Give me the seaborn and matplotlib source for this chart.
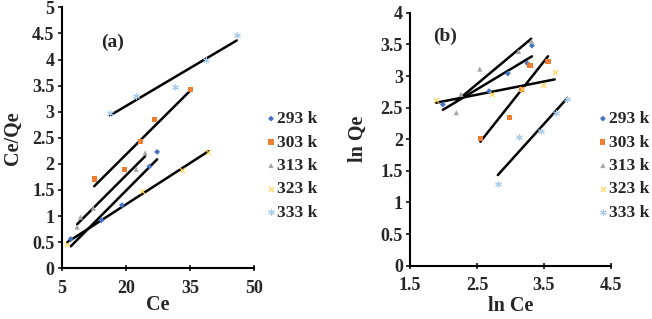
import numpy as np
import pandas as pd
import matplotlib
matplotlib.use("Agg")
import matplotlib.pyplot as plt
import seaborn as sns

# series labels and look
temps = ["293 k", "303 k", "313 k", "323 k", "333 k"]
colors = ["#4472C4", "#ED7D31", "#A5A5A5", "#FFD24D", "#A9CCEA"]
markers = ["D", "s", "^", "x", (6, 2, 0)]
sizes = [9, 14, 14, 14, 18]

# (a) Ce vs Ce/Qe
ce_a = [
    [7.1, 14.3, 19.1, 25.5, 27.3],
    [12.6, 19.7, 23.5, 26.6, 35.1],
    [8.6, 9.4, 12.4, 22.4, 24.5],
    [6.3, 23.7, 33.0, 39.3],
    [16.3, 22.4, 31.5, 38.7, 45.9],
]
ceqe_a = [
    [0.56, 0.92, 1.21, 1.95, 2.23],
    [1.71, 1.90, 2.43, 2.85, 3.42],
    [0.79, 0.98, 1.15, 1.90, 2.21],
    [0.47, 1.49, 1.88, 2.23],
    [2.97, 3.30, 3.47, 3.99, 4.47],
]
xticks_a = [5, 20, 35, 50]
yticks_a = [0, 0.5, 1, 1.5, 2, 2.5, 3, 3.5, 4, 4.5, 5]

# (b) ln Ce vs ln Qe
lnce_b = [
    [1.99, 2.68, 2.96, 3.25, 3.32],
    [2.55, 2.99, 3.16, 3.29, 3.56],
    [2.19, 2.26, 2.54, 3.12, 3.31],
    [1.89, 2.72, 3.17, 3.49, 3.66],
    [2.81, 3.12, 3.46, 3.68, 3.84],
]
lnqe_b = [
    [2.55, 2.76, 3.04, 3.20, 3.48],
    [2.01, 2.35, 2.79, 3.17, 3.23],
    [2.42, 2.71, 3.11, 3.39, 3.55],
    [2.62, 2.71, 2.79, 2.85, 3.06],
    [1.30, 2.03, 2.13, 2.42, 2.64],
]
xticks_b = [1.5, 2.5, 3.5, 4.5]
yticks_b = [0, 0.5, 1, 1.5, 2, 2.5, 3, 3.5, 4]

sns.set_style("white")
plt.rcParams["font.family"] = ["Liberation Serif", "DejaVu Serif"]
plt.rcParams["font.weight"] = "bold"

fig = plt.figure(figsize=(6.52, 3.19), dpi=100)
ax_a = fig.add_axes([0.0946, 0.159, 0.2954, 0.818])
ax_b = fig.add_axes([0.629, 0.167, 0.308, 0.793])


def draw_panel(ax, xs, ys, xt, yt):
    for i, t in enumerate(temps):
        df = pd.DataFrame({"x": xs[i], "y": ys[i]})
        sns.regplot(data=df, x="x", y="y", ax=ax, scatter=False, ci=None,
                    color="black", line_kws={"lw": 1.8})
        kw = dict(marker=markers[i], color=colors[i], s=sizes[i], label=t,
                  zorder=3)
        if markers[i] in ("D", "s", "^"):
            kw["edgecolor"] = "none"
        else:
            kw["linewidth"] = 0.8
        sns.scatterplot(data=df, x="x", y="y", ax=ax, **kw)
    if ax.get_legend():
        ax.get_legend().remove()
    for side in ("top", "right"):
        ax.spines[side].set_visible(False)
    for side in ("left", "bottom"):
        ax.spines[side].set_linewidth(1.5)
        ax.spines[side].set_color("black")
    ax.set_xlim(xt[0], xt[-1])
    ax.set_ylim(yt[0], yt[-1])
    ax.set_xticks(xt, labels=["%g" % v for v in xt], fontweight="bold")
    ax.set_yticks(yt, labels=["%g" % v for v in yt], fontweight="bold")
    ax.tick_params(axis="y", direction="out", length=3.2, width=1.3, pad=2,
                   labelsize=13, left=True)
    ax.tick_params(axis="x", direction="inout", length=4.5, width=1.3, pad=6,
                   labelsize=13, bottom=True)


draw_panel(ax_a, ce_a, ceqe_a, xticks_a, yticks_a)
ax_a.set_xlabel("Ce", fontsize=14.5, fontweight="bold", labelpad=-1)
ax_a.set_ylabel("Ce/Qe", fontsize=14.5, fontweight="bold", labelpad=6.5)
ax_a.text(17, 4.32, "(a)", fontsize=14, fontweight="bold", ha="center", va="center")

draw_panel(ax_b, lnce_b, lnqe_b, xticks_b, yticks_b)
ax_b.set_xlabel("ln Ce", fontsize=14.5, fontweight="bold", labelpad=1)
ax_b.set_ylabel("ln Qe", fontsize=14.5, fontweight="bold", labelpad=9)
ax_b.text(2.02, 3.62, "(b)", fontsize=14, fontweight="bold", ha="center", va="center")

for ax, left in ((ax_a, 0.409), (ax_b, 0.918)):
    h, l = ax.get_legend_handles_labels()
    fig.legend(h, l, loc="upper left", bbox_to_anchor=(left, 0.652),
               frameon=False, prop={"family": "Liberation Serif", "weight": "bold", "size": 12.5},
               handlelength=0.5, handletextpad=0.1, labelspacing=0.42,
               borderpad=0, borderaxespad=0, markerscale=1.0)

fig.savefig("out.png", dpi=100)
